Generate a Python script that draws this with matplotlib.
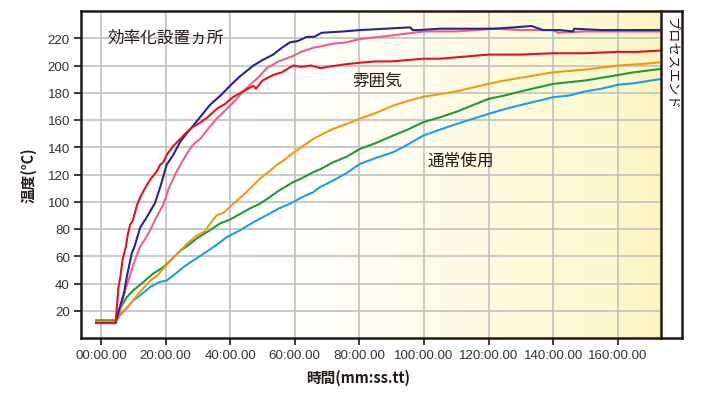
import numpy as np
import matplotlib
matplotlib.use("Agg")
import matplotlib.pyplot as plt
from matplotlib.colors import LinearSegmentedColormap
from matplotlib import font_manager

plt.rcParams['font.family'] = ['Noto Sans CJK JP', 'DejaVu Sans']

# ---- data (time in minutes, temperature in °C) ----
red_t = [-1.5, 4.5, 5.0, 5.4, 6.0, 6.7, 7.7, 8.3, 9.0, 9.8, 11.2, 12.5, 14.1, 15.5, 17.2, 18.3, 19.3, 20.5,
         22.4, 24.5, 26.5, 28.5, 30.7, 33.0, 35.8, 38.5, 41, 44, 47.2, 48, 50, 53.3, 56, 59.5, 62, 65, 68,
         70, 73, 76, 80, 85, 90, 95, 99.8, 105, 110, 120, 130, 140, 150, 160, 166, 173.4]
red_v = [11, 11, 25, 37, 45, 58, 67, 76, 83, 86, 98, 105, 112, 117, 122, 127, 129, 135,
         141, 146, 151, 155, 158, 162, 168, 172, 177, 181, 185, 183, 189, 193, 195, 200, 199, 200, 198,
         199, 200, 201, 202, 203, 203, 204, 205, 205, 206, 208, 208, 209, 209, 210, 210, 211]

navy_t = [-1.5, 4.5, 5.5, 7.1, 8.0, 9.5, 10.5, 12.1, 14, 16.7, 18.5, 20.3, 22.5, 24.5, 26.5, 28.6, 31, 33.7,
          37, 39.9, 43, 47.2, 50, 53.3, 56, 58.5, 61, 63.7, 66, 68.3, 75, 80.2, 88, 95.7, 96.5, 98.2, 105,
          115, 121.5, 128, 133.3, 136.9, 142, 146.2, 146.5, 155, 165, 173.4]
navy_v = [11, 11, 20, 33, 45, 62, 68, 81, 88, 99, 112, 127, 135, 144, 150, 156, 163, 171,
          178, 185, 192, 200, 204, 208, 213, 217, 218, 221, 221, 224, 225, 226, 227, 228, 226, 226, 227,
          227, 227, 228, 229, 226, 226, 225, 227, 226, 226, 226]

pink_t = [-1.5, 4.5, 6, 7.5, 9.5, 10.5, 12.1, 13.5, 15.2, 17, 19.3, 21, 23.4, 25.5, 27.6, 29, 30.7, 33, 35.8,
          38, 41, 44, 47.2, 49, 51.3, 55, 59.5, 62, 65.7, 68, 71.9, 76, 80.2, 90, 99.8, 110, 121.5, 130, 140,
          141.5, 150, 160, 173.4]
pink_v = [11, 11, 22, 35, 50, 57, 67, 72, 79, 88, 98, 110, 122, 131, 139, 143, 146, 153, 161,
          166, 173, 181, 188, 192, 198, 203, 207, 210, 213, 214, 216, 217, 219.5, 222, 225, 225, 227, 226, 226,
          224, 225, 225, 225]

orange_t = [-1.5, 4.5, 5.9, 8, 10, 12.5, 15.2, 17.5, 19.3, 22, 24.5, 27, 29.6, 32, 33.5, 35.8, 38, 41, 45,
            49.2, 52, 54.4, 57, 59.5, 62, 65.7, 68, 71.9, 76, 80.2, 85, 90.5, 95, 99.8, 105, 110, 119.9, 125,
            130, 140, 150, 160, 167, 173.4]
orange_v = [12, 12, 18, 22, 28, 35, 42, 46, 51, 58, 64, 70, 75, 78, 83, 90, 92, 98.5, 107,
            117, 122, 127, 131, 136, 140, 146, 149, 153.5, 157, 161, 165, 170.6, 174, 177, 179, 181, 186.5, 189,
            191, 195, 197, 200, 201, 202.4]

green_t = [-1.5, 4.5, 6, 8, 10, 13.1, 16, 19.3, 22, 24.5, 27, 29.6, 33, 36.8, 40, 44.1, 46, 49.2, 52, 55,
           59.5, 62, 65.7, 68, 71.9, 76, 80.2, 85, 90.5, 95, 99.8, 105, 110, 120, 125, 130, 140, 150, 155,
           160, 165, 173.4]
green_v = [13, 13, 22, 30, 35, 41, 47, 52, 58, 64, 68, 73, 78, 84, 87, 92.4, 95, 98.5, 103, 108,
           114.4, 117, 121.7, 124, 129, 133, 138.8, 143, 148.6, 153, 158.4, 162, 166, 175.5, 178, 181, 186.5, 189, 191,
           193, 195, 197.5]

blue_t = [-1.5, 4.5, 6, 8, 10, 12, 15.2, 18, 20.3, 23, 25.5, 28, 31.7, 35, 38.9, 43, 47.2, 52, 55, 58.5,
          62, 65.7, 68, 71.9, 76, 80.2, 85, 90.5, 95, 99.8, 105, 110, 120, 125, 130, 140, 145, 150, 155, 160,
          165, 173.4]
blue_v = [12, 12, 17, 22, 27.6, 31, 37.4, 41, 42.2, 47, 52, 56, 61.8, 67, 74, 79, 85, 91, 95, 98.5,
          103, 107, 111, 115.6, 121, 127.8, 132, 136.4, 142, 148.6, 153, 157, 164.5, 168, 171, 176.7, 178, 181, 183, 185.8,
          187, 190.1]

x_ticks = [0, 20, 40, 60, 80, 100, 120, 140, 160]
x_labels = ["00:00.00", "20:00.00", "40:00.00", "60:00.00", "80:00.00",
            "100:00.00", "120:00.00", "140:00.00", "160:00.00"]
y_ticks = [20, 40, 60, 80, 100, 120, 140, 160, 180, 200, 220]

XMIN, XEND, XMAX = -6.2, 173.4, 179.9
YMIN, YMAX = 0, 240

fig = plt.figure(figsize=(7.2, 4.1), dpi=100)
ax = fig.add_axes([81/720, 1-339/410, (682-81)/720, (339-12)/410])

# gradient background
cmap = LinearSegmentedColormap.from_list("bg", [
    (0.0, "#ffffff"), (0.3, "#ffffff"), (0.55, "#fffdf0"), (0.75, "#fefbdc"),
    (0.93, "#fdf8cc"), (1.0, "#fcf4bc")])
grad = np.linspace(0, 1, 400).reshape(1, -1)
ax.imshow(grad, extent=(XMIN, XEND, YMIN, YMAX), cmap=cmap, aspect='auto', zorder=0)

# grid
gc = "#c0c0c0"
for yv in y_ticks:
    ax.plot([XMIN, XEND], [yv, yv], color=gc, lw=1.2, zorder=1)
for xv in x_ticks:
    ax.plot([xv, xv], [YMIN, YMAX], color=gc, lw=1.2, zorder=1)

lw = 1.5
ax.plot(blue_t, blue_v, color="#1aa0e4", lw=lw, zorder=3)
ax.plot(green_t, green_v, color="#1e9a3c", lw=lw, zorder=3)
ax.plot(orange_t, orange_v, color="#f39a0c", lw=lw, zorder=3)
ax.plot(pink_t, pink_v, color="#ec5f8c", lw=lw, zorder=3)
ax.plot(navy_t, navy_v, color="#25278a", lw=lw, zorder=4)
ax.plot(red_t, red_v, color="#e60f23", lw=lw, zorder=5)

# process end box
sc = "#231815"
ax.plot([XEND, XEND], [YMIN, YMAX], color=sc, lw=1.8, zorder=6, clip_on=False)

ax.set_xlim(XMIN, XMAX)
ax.set_ylim(YMIN, YMAX)
for s in ax.spines.values():
    s.set_color(sc)
    s.set_linewidth(1.8)
    s.set_zorder(7)

names = {f.name for f in font_manager.fontManager.ttflist}
if 'Liberation Sans Narrow' in names:
    tick_font = ['Liberation Sans Narrow', 'DejaVu Sans']
    tfs = 11.5
else:
    tick_font = ['Liberation Sans', 'DejaVu Sans']
    tfs = 9.6
ax.set_xticks(x_ticks)
ax.set_xticklabels(x_labels, fontfamily=tick_font, fontsize=tfs, color="#333333")
ax.set_yticks(y_ticks)
ax.set_yticklabels([str(v) for v in y_ticks], fontfamily=tick_font, fontsize=tfs, color="#333333")
ax.tick_params(axis='both', direction='out', length=5, width=1.2, color=sc, pad=3)

ax.set_ylabel("温度(°C)", fontsize=10.5, fontweight='bold', color="#231815", labelpad=8)
fig.text(358/720, 1-378/410, "時間(mm:ss.tt)", fontsize=10.5, fontweight='bold',
         color="#231815", ha='center', va='center')

ax.text(1.9, 221, "効率化設置ヵ所", fontsize=12, color="#231815", va='center', ha='left', zorder=8)
ax.text(77.7, 188, "雰囲気", fontsize=12, color="#231815", va='center', ha='left', zorder=8)
ax.text(101.2, 130.7, "通常使用", fontsize=12, color="#231815", va='center', ha='left', zorder=8)
ax.text((XEND + XMAX) / 2, 236, "プロセスエンド", fontsize=9.5, color="#231815", rotation=-90,
        va='top', ha='center', zorder=8)

fig.savefig("out.png", dpi=100, facecolor="white")
